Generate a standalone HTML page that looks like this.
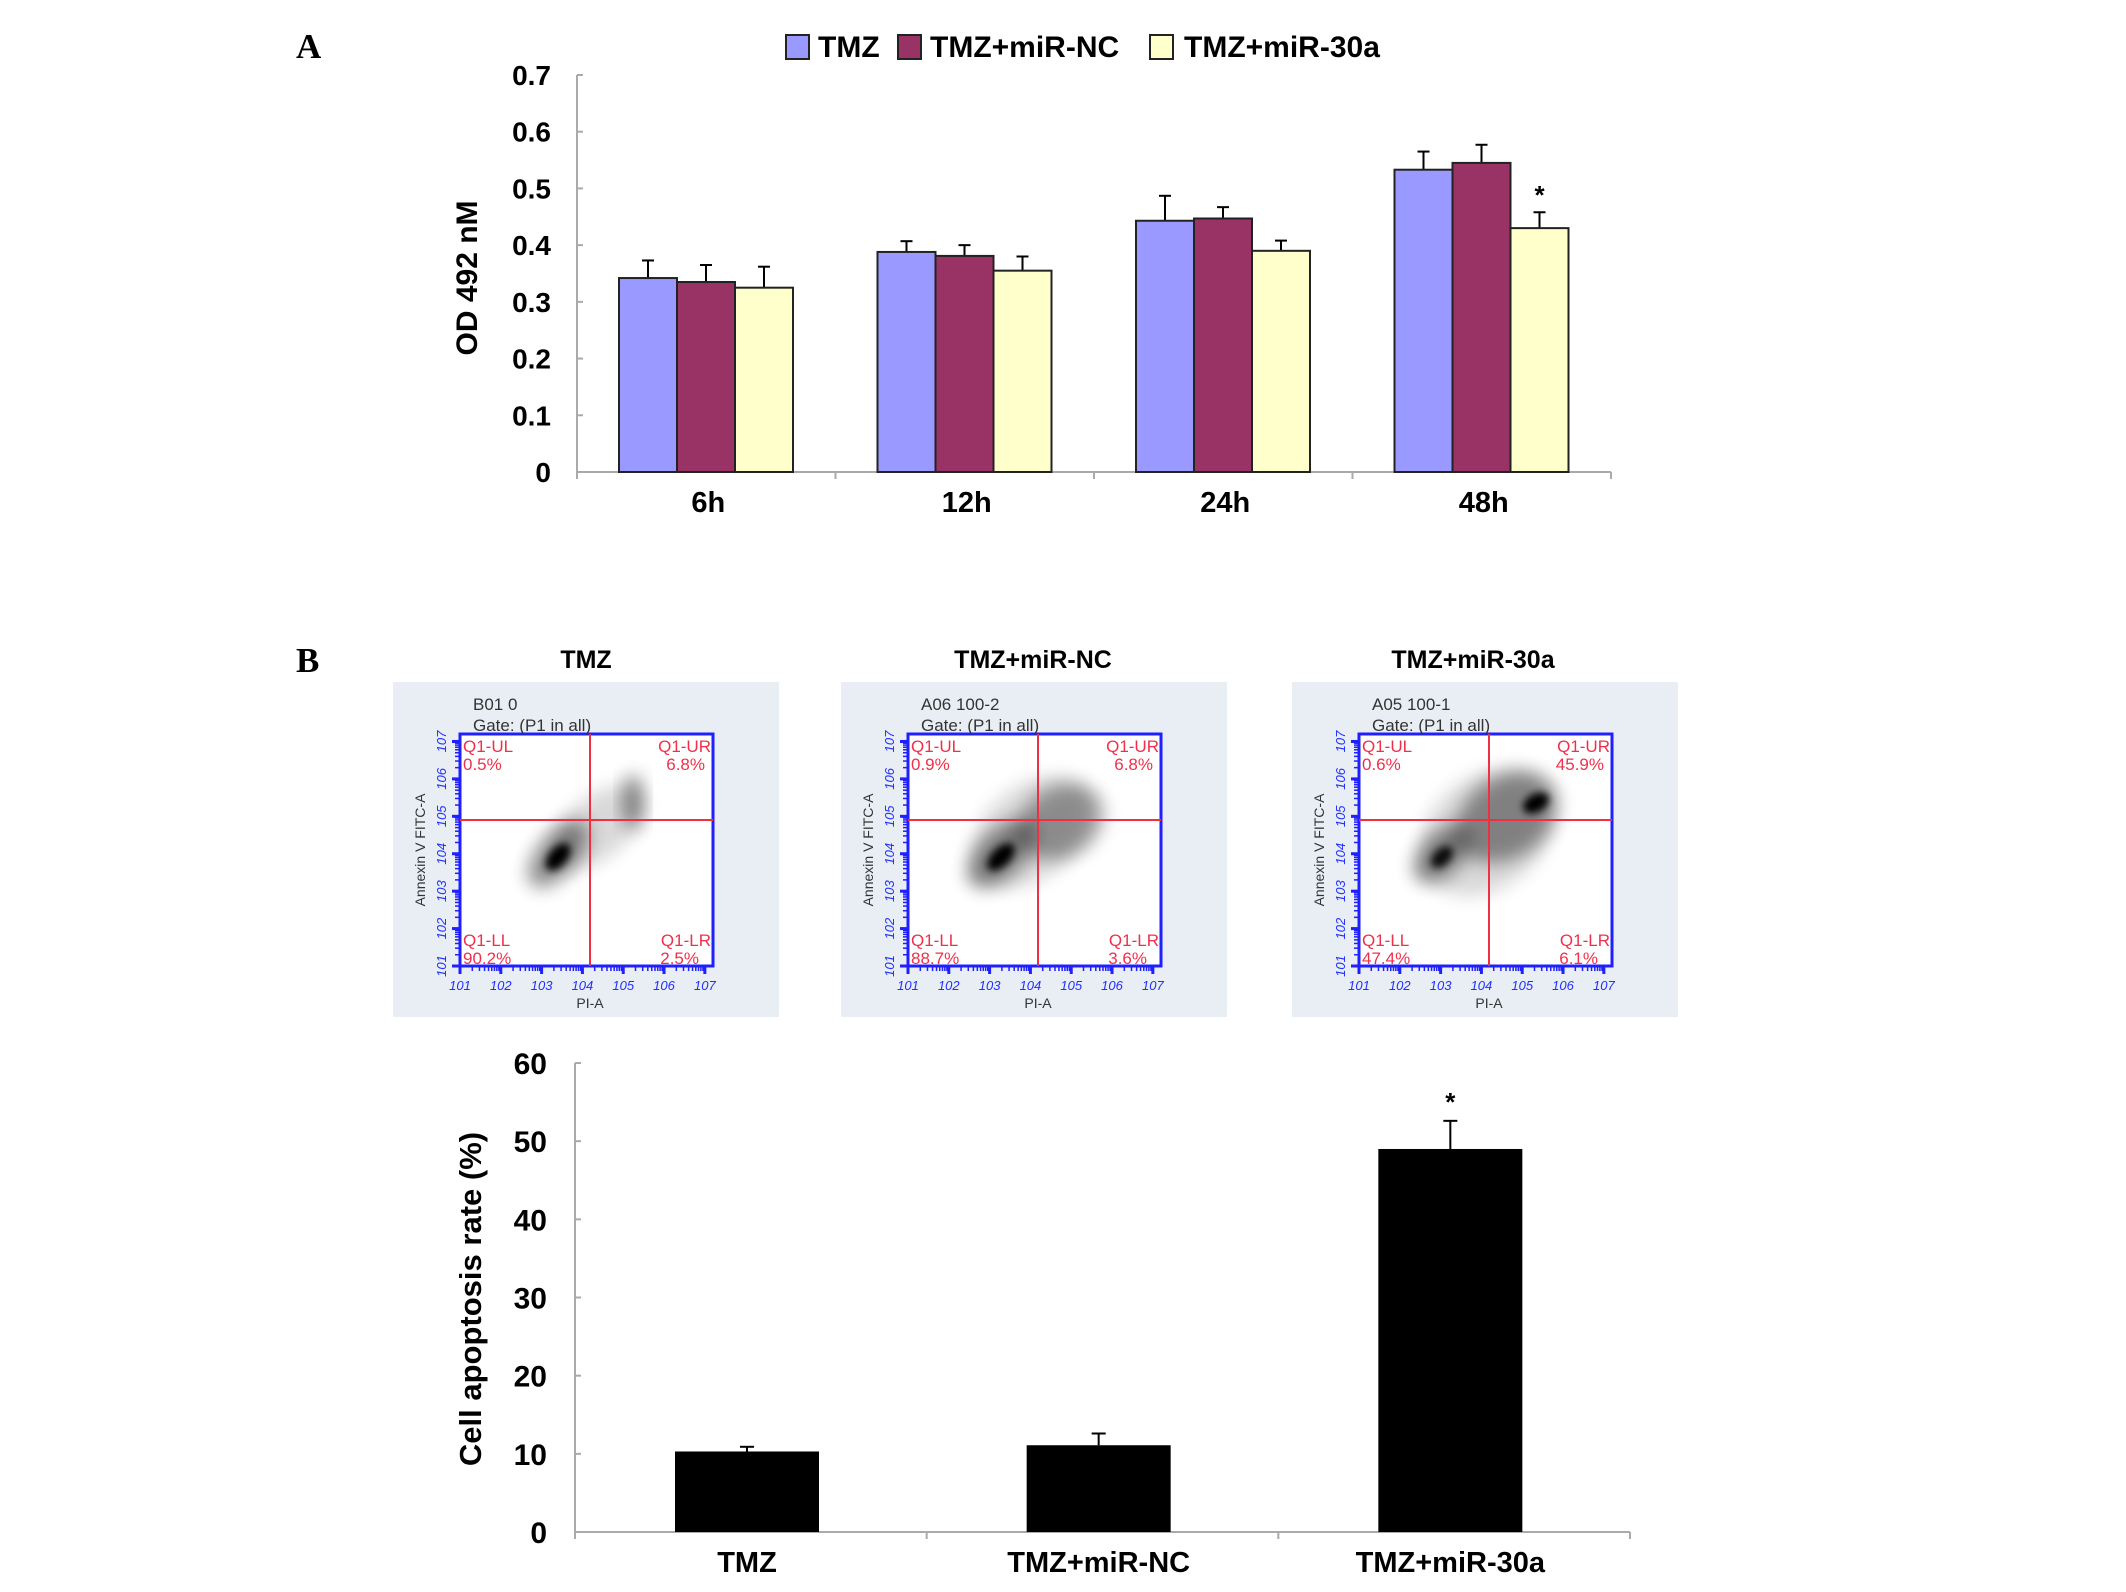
<!DOCTYPE html>
<html><head><meta charset="utf-8"><style>
body{margin:0;background:#fff}
svg{display:block;font-family:"Liberation Sans",Arial,sans-serif}
</style></head><body>
<svg id="fig" width="2126" height="1592" viewBox="0 0 2126 1592" xmlns="http://www.w3.org/2000/svg">
<defs>
<filter id="blur4" x="-50%" y="-50%" width="200%" height="200%"><feGaussianBlur stdDeviation="4"/></filter>
<filter id="blur9" x="-50%" y="-50%" width="200%" height="200%"><feGaussianBlur stdDeviation="9"/></filter>
</defs>
<text x="296" y="58" font-family="Liberation Serif,serif" font-weight="bold" font-size="35">A</text>
<text x="296" y="672" font-family="Liberation Serif,serif" font-weight="bold" font-size="35">B</text>
<g id="chartA"></g>
<g id="flow"></g>
<g id="chartB"></g>
</svg>
<script>
const NS="http://www.w3.org/2000/svg";
// ---- Panel A data ----
const timeCats=["6h","12h","24h","48h"];
const seriesNames=["TMZ","TMZ+miR-NC","TMZ+miR-30a"];
const tmzVals=[0.342,0.388,0.443,0.533];
const ncVals=[0.335,0.381,0.447,0.545];
const mir30Vals=[0.325,0.355,0.390,0.430];
const tmzErr=[0.031,0.019,0.044,0.032];
const ncErr=[0.030,0.019,0.020,0.032];
const mir30Err=[0.037,0.025,0.018,0.028];
const yTicksA=[0,0.1,0.2,0.3,0.4,0.5,0.6,0.7];
const yTickLabelsA=["0","0.1","0.2","0.3","0.4","0.5","0.6","0.7"];
const sigA=[false,false,false,true];
// ---- Panel B bar data ----
const groupCats=["TMZ","TMZ+miR-NC","TMZ+miR-30a"];
const apopVals=[10.3,11.1,49.0];
const apopErr=[0.6,1.5,3.6];
const yTicksB=[0,10,20,30,40,50,60];
const sigB=[false,false,true];
// ---- Flow data ----
const flowTitles=["TMZ","TMZ+miR-NC","TMZ+miR-30a"];
const flowIds=["B01 0","A06 100-2","A05 100-1"];
const qUL=["0.5%","0.9%","0.6%"];
const qUR=["6.8%","6.8%","45.9%"];
const qLL=["90.2%","88.7%","47.4%"];
const qLR=["2.5%","3.6%","6.1%"];

function el(tag,attrs,parent,txt){const e=document.createElementNS(NS,tag);for(const k in attrs)e.setAttribute(k,attrs[k]);if(txt!==undefined)e.textContent=txt;parent.appendChild(e);return e;}

// ===== Chart A =====
(function(){
const g=document.getElementById('chartA');
const x0=577,x1=1611,y0=472,yTop=75,yMax=0.7;
const y=v=>y0-(v/yMax)*(y0-yTop);
const catW=(x1-x0)/timeCats.length;
const barW=58,off=42;
const colors=["#9999ff","#993366","#ffffcc"];
const vals=[tmzVals,ncVals,mir30Vals],errs=[tmzErr,ncErr,mir30Err];
let a=el('line',{x1:x0,y1:yTop,x2:x0,y2:y0,stroke:'#aaa','stroke-width':2},g);

a=el('line',{x1:x0,y1:y0,x2:x1,y2:y0,stroke:'#aaa','stroke-width':2},g);

yTicks=yTicksA;
yTicksA.forEach((t,i)=>{
 el('line',{x1:x0,y1:y(t),x2:x0+6,y2:y(t),stroke:'#aaa','stroke-width':2},g);
 const tx=el('text',{x:551,y:y(t)+10,'text-anchor':'end','font-size':28,'font-weight':'bold'},g,yTickLabelsA[i]);
 
});
for(let c=0;c<=timeCats.length;c++){el('line',{x1:x0+c*catW,y1:y0,x2:x0+c*catW,y2:y0+7,stroke:'#aaa','stroke-width':2},g);}
timeCats.forEach((cat,c)=>{
 const gx=x0+c*catW;
 for(let s=0;s<3;s++){
  const bx=gx+off+s*barW,v=vals[s][c],e=errs[s][c];
  const cx=bx+barW/2;
  const el1=el('line',{x1:cx,y1:y(v),x2:cx,y2:y(v+e),stroke:'#000','stroke-width':2},g);
  
  el('line',{x1:cx-6,y1:y(v+e),x2:cx+6,y2:y(v+e),stroke:'#000','stroke-width':2},g);
  const r=el('rect',{x:bx,y:y(v),width:barW,height:y0-y(v),fill:colors[s],stroke:'#222','stroke-width':2},g);
  
  if(s===2&&sigA[c]){const st=el('text',{x:cx,y:y(v+e)-8,'text-anchor':'middle','font-size':26,'font-weight':'bold'},g,'*');}
 }
 const t=el('text',{x:gx+catW/2+2,y:512,'text-anchor':'middle','font-size':29,'font-weight':'bold'},g,cat);
 
});
const yt=el('text',{transform:'translate(477,278) rotate(-90)','text-anchor':'middle','font-size':30,'font-weight':'bold'},g,'OD 492 nM');

const lx=[786,898,1150],tx=[818,930,1184];
seriesNames.forEach((n,i)=>{
 const sq=el('rect',{x:lx[i],y:35,width:23,height:24,fill:colors[i],stroke:'#222','stroke-width':2},g);
 
 const t=el('text',{x:tx[i],y:57,'font-size':30,'font-weight':'bold'},g,n);
 
});
})();

// ===== Flow plots =====
(function(){
const g=document.getElementById('flow');
const lefts=[393,841,1292],top=682,W=386,H=335;
const titleX=[586,1033,1473];
// cluster specs: [cx,cy,rx,ry,rot,opacity]
const clusters=[
 [[165,172,40,20,-50,0.45],[165,175,16,9,-50,1],[240,120,10,28,0,0.45],[205,145,55,30,-40,0.15]],
 [[160,172,42,22,-45,0.45],[160,175,17,9,-45,1],[220,140,45,35,-30,0.35],[190,150,70,45,-40,0.15]],
 [[150,172,35,20,-45,0.45],[150,175,13,8,-45,0.9],[244,121,14,9,-30,1],[215,135,55,40,-35,0.4],[195,150,75,55,-40,0.15]]
];
for(let p=0;p<3;p++){
 const L=lefts[p];
 const pg=el('g',{transform:`translate(${L},${top})`},g);
 
 el('rect',{x:0,y:0,width:W,height:H,fill:'#e9eef5'},pg);
 const bx=67,by=52,bw=253,bh=232;
 el('rect',{x:bx,y:by,width:bw,height:bh,fill:'#fff'},pg);
 clusters[p].forEach(c=>{el('ellipse',{cx:c[0],cy:c[1],rx:c[2],ry:c[3],transform:`rotate(${c[4]} ${c[0]} ${c[1]})`,fill:'#000',opacity:c[5],filter:c[5]>0.8?'url(#blur4)':'url(#blur9)'},pg);});
 el('rect',{x:bx,y:by,width:bw,height:bh,fill:'none',stroke:'#1f1fff','stroke-width':3},pg);
 el('line',{x1:197,y1:by,x2:197,y2:by+bh,stroke:'#f03040','stroke-width':2},pg);
 el('line',{x1:bx,y1:138,x2:bx+bw,y2:138,stroke:'#f03040','stroke-width':2},pg);
 for(let i=0;i<=6;i++){
  const xx=bx+i*bw/6.2,yy=by+bh-i*bh/6.2;
  el('line',{x1:xx,y1:by+bh,x2:xx,y2:by+bh+8,stroke:'#1f1fff','stroke-width':3},pg);
  el('line',{x1:bx-8,y1:yy,x2:bx,y2:yy,stroke:'#1f1fff','stroke-width':3},pg);
  for(let k=1;k<9&&i<6;k++){const d=Math.log10(k+1)*bw/6.2;el('line',{x1:xx+d,y1:by+bh,x2:xx+d,y2:by+bh+5,stroke:'#1f1fff','stroke-width':1.5},pg);const dy=Math.log10(k+1)*bh/6.2;el('line',{x1:bx-5,y1:yy-dy,x2:bx,y2:yy-dy,stroke:'#1f1fff','stroke-width':1.5},pg);}
  el('text',{x:xx,y:by+bh+24,'text-anchor':'middle','font-size':13,fill:'#2030ff','font-style':'italic'},pg,'10'+(i+1));
  el('text',{transform:`translate(${bx-14},${yy}) rotate(-90)`,'text-anchor':'middle','font-size':13,fill:'#2030ff','font-style':'italic'},pg,'10'+(i+1));
 }
 el('text',{x:bx+bw,y:by+bh+24,'text-anchor':'start','font-size':13,fill:'#2030ff'},pg,'');
 el('text',{x:197,y:by+bh+42,'text-anchor':'middle','font-size':14,fill:'#333'},pg,'PI-A');
 el('text',{transform:`translate(32,${by+bh/2}) rotate(-90)`,'text-anchor':'middle','font-size':14,fill:'#333'},pg,'Annexin V FITC-A');
 el('text',{x:80,y:28,'font-size':17,fill:'#333'},pg,flowIds[p]);
 el('text',{x:80,y:49,'font-size':17,fill:'#333'},pg,'Gate: (P1 in all)');
 const red='#f0304a';
 el('text',{x:bx+3,y:by+18,'font-size':17,fill:red},pg,'Q1-UL');
 el('text',{x:bx+3,y:by+36,'font-size':17,fill:red},pg,qUL[p]);
 el('text',{x:bx+bw-2,y:by+18,'font-size':17,fill:red,'text-anchor':'end'},pg,'Q1-UR');
 el('text',{x:bx+bw-8,y:by+36,'font-size':17,fill:red,'text-anchor':'end'},pg,qUR[p]);
 el('text',{x:bx+3,y:by+bh-20,'font-size':17,fill:red},pg,'Q1-LL');
 el('text',{x:bx+3,y:by+bh-2,'font-size':17,fill:red},pg,qLL[p]);
 el('text',{x:bx+bw-2,y:by+bh-20,'font-size':17,fill:red,'text-anchor':'end'},pg,'Q1-LR');
 el('text',{x:bx+bw-14,y:by+bh-2,'font-size':17,fill:red,'text-anchor':'end'},pg,qLR[p]);
 const tt=el('text',{x:titleX[p],y:668,'text-anchor':'middle','font-size':25,'font-weight':'bold'},g,flowTitles[p]);
 
}
})();

// ===== Chart B =====
(function(){
const g=document.getElementById('chartB');
const x0=575,x1=1630,y0=1532,yTop=1063,yMax=60;
const y=v=>y0-(v/yMax)*(y0-yTop);
const catW=(x1-x0)/groupCats.length;
const barW=144,off=100;
let a=el('line',{x1:x0,y1:yTop,x2:x0,y2:y0,stroke:'#aaa','stroke-width':2},g);

a=el('line',{x1:x0,y1:y0,x2:x1,y2:y0,stroke:'#aaa','stroke-width':2},g);

yTicksB.forEach(t=>{
 el('line',{x1:x0,y1:y(t),x2:x0+6,y2:y(t),stroke:'#aaa','stroke-width':2},g);
 const tx=el('text',{x:547,y:y(t)+11,'text-anchor':'end','font-size':30,'font-weight':'bold'},g,String(t));
 
});
for(let c=0;c<=groupCats.length;c++){el('line',{x1:x0+c*catW,y1:y0,x2:x0+c*catW,y2:y0+7,stroke:'#aaa','stroke-width':2},g);}
groupCats.forEach((cat,c)=>{
 const bx=x0+c*catW+off,v=apopVals[c],e=apopErr[c],cx=bx+barW/2;
 const eb=el('line',{x1:cx,y1:y(v),x2:cx,y2:y(v+e),stroke:'#000','stroke-width':2},g);
 
 el('line',{x1:cx-7,y1:y(v+e),x2:cx+7,y2:y(v+e),stroke:'#000','stroke-width':2},g);
 const r=el('rect',{x:bx,y:y(v),width:barW,height:y0-y(v),fill:'#000'},g);
 
 if(sigB[c]){const st=el('text',{x:cx,y:y(v+e)-10,'text-anchor':'middle','font-size':26,'font-weight':'bold'},g,'*');}
 const t=el('text',{x:cx,y:1572,'text-anchor':'middle','font-size':29,'font-weight':'bold'},g,cat);
 
});
const yt=el('text',{transform:'translate(481,1299) rotate(-90)','text-anchor':'middle','font-size':31,'font-weight':'bold'},g,'Cell apoptosis rate (%)');

})();
</script>
</body></html>
